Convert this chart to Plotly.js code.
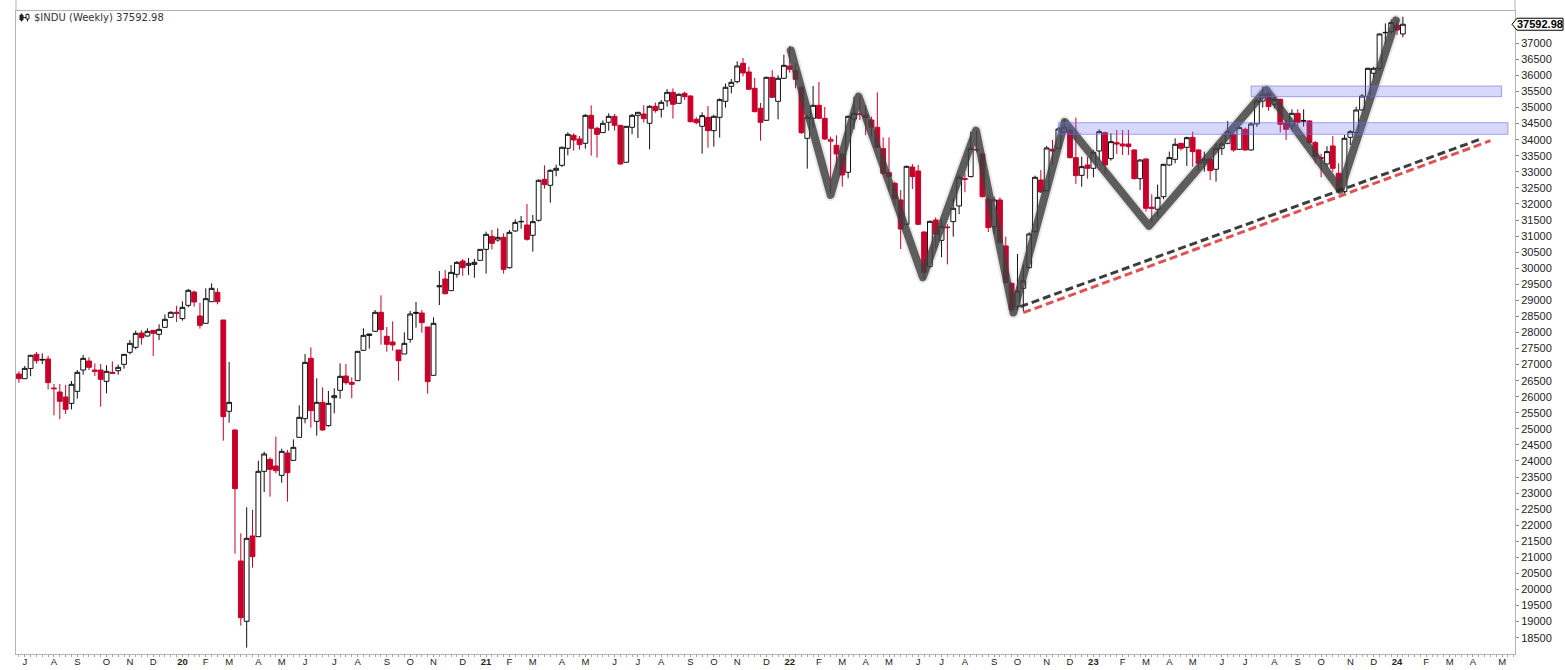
<!DOCTYPE html>
<html><head><meta charset="utf-8">
<script src="https://cdn.plot.ly/plotly-3.0.1.min.js"></script>
<style>html,body{margin:0;padding:0;background:#fff;}#chart{width:1565px;height:670px;}</style>
</head><body><div id="chart"></div>
<script>
// ---- data (weekly bars, first bar = week ending 2019-06-28) ----
const firstWeek = [2019, 5, 28];
const open = [
26707,26562,26880,27320,27140,27174,26270,26147,25992,25794,
26168,26832,27112,26832,26832,26479,26760,26811,27008,27382,
27537,27983,27890,28066,27942,28160,28471,28627,28430,28844,
29259,28513,28284,28958,29249,28388,25546,24965,20888,19010,
21666,21645,23678,24052,23844,23553,24249,24020,24736,25317,
27195,25234,25826,25100,25970,26199,26645,26448,26500,27444,
27952,28035,28627,27880,27703,27455,27330,27786,28625,28606,
28170,26666,29420,29664,29301,29809,30224,30090,30120,30245,
30587,30992,30878,30961,30017,31158,31458,31344,31024,31491,
32767,32580,33047,33202,33731,34136,34022,33887,34758,34354,
34219,34541,34727,34447,33296,34385,34758,34800,34510,35039,
34945,35205,35474,35132,35443,35360,34634,34416,34696,34281,
34696,35194,35661,35806,36377,36107,35599,34976,34603,35941,
35194,35910,36294,36149,35630,34043,34665,35070,34665,33950,
33825,33555,32985,34644,34800,34759,34613,34385,33721,32974,
32642,32124,31366,33150,33026,31127,30049,31501,30868,31283,
31449,31937,32788,32850,33700,33555,32155,31293,32124,30692,
29530,28803,29374,30017,31138,32746,32414,33700,33731,34229,
34302,33441,32891,33213,33109,33648,34219,33410,33908,33866,
33866,33680,32787,33400,31900,31833,32227,33213,33389,33887,
33762,34074,33680,33296,33399,33078,33731,33887,34167,33700,
34323,33680,34489,35204,35443,35101,35256,34530,34426,34820,
34600,34582,33908,33441,33244,33804,32954,32383,34074,34219,
34924,35339,36066,36221,37340,37362,37569,37290];
const high = [
26790,26956,27300,27392,27350,27267,26396,26396,26365,26490,
26832,27299,27226,27039,27018,26977,27101,26998,27330,27766,
28056,28066,28129,28070,28253,28564,28658,28834,28969,29353,
29301,28927,29373,29529,29373,28388,27081,24985,21749,22558,
22475,24010,24290,24114,24757,24383,24342,24674,25732,27330,
27537,26573,26292,26178,26261,27039,27018,26604,27413,28128,
27952,28699,29155,28170,28346,27455,28004,28668,28948,28700,
28170,28471,29913,29944,30100,30220,30286,30318,30286,30587,
31137,31189,31240,31085,31189,31521,31625,31998,31656,32767,
33202,33078,33223,33783,34229,34200,34115,34800,35070,34406,
34603,34821,34800,34447,34416,34800,34860,35070,35070,35153,
35236,35578,35599,35443,35495,35380,34700,34852,35049,34779,
35288,35744,35889,36439,36543,36273,35920,35142,35960,36159,
36004,36647,36916,36377,35650,34769,35671,35796,35018,34090,
34136,33580,34750,35340,35340,35080,34717,35474,34074,34074,
32694,32435,33190,33244,33213,31150,31480,31584,31501,31366,
32155,32902,32954,34250,34281,33580,32279,32227,32207,30982,
29550,30443,30100,31117,32881,33057,33804,33991,34385,34634,
34437,34686,33472,33472,33680,34323,34250,34198,34302,34302,
34302,33700,33390,33420,32300,32600,33250,33628,34043,33900,
34095,34250,33700,33628,33420,33887,33939,34582,34198,34406,
34375,34550,35250,35650,35500,35340,35280,34613,34945,34945,
34945,34600,33960,33555,33800,34115,33265,34146,34302,35028,
35422,36240,36273,37310,37620,37746,37725,37830];
const low = [
26438,26562,26640,27029,27018,26230,25421,25297,25463,25608,
25940,26687,26832,26645,25690,26106,26708,26687,26873,27320,
27475,27620,27869,27268,27765,28160,28471,28326,28367,28782,
28803,28118,28284,28958,28875,24632,25193,21116,18875,18190,
20680,21645,23035,22890,23616,23325,22734,24020,24736,25172,
25037,24788,24944,25068,25483,25940,26375,25950,26500,27444,
27496,28014,27620,27402,27434,26500,27330,27683,28149,27994,
26095,26666,28855,29187,29301,29705,29768,29788,29705,30245,
29830,30587,30826,29830,29986,31137,31230,30857,30515,31450,
32476,32040,32860,33150,33514,33659,33690,33721,33503,33441,
34219,34281,34281,33223,33296,34167,34053,34530,33700,34842,
34686,35028,34655,35132,35236,34540,34480,33565,33752,33783,
34063,34997,35443,35754,35972,35547,34850,33970,34590,35300,
34634,35890,36086,35599,34177,33099,34354,34640,33991,32331,
33078,32539,32798,34323,34613,34146,34095,33740,32902,32414,
31947,30599,31345,32466,31340,29653,30030,30599,30339,30121,
30982,31677,32362,32830,33607,32200,31127,31065,30770,29530,
28648,28700,28660,29990,31100,32340,32383,33213,33700,34198,
33410,32621,32538,32787,32829,33368,32922,33348,33555,33524,
33524,32760,32435,31760,31430,31600,32150,33182,33265,33659,
33182,33161,33026,33005,32746,32694,33524,33856,33628,33680,
33660,33660,34400,35000,34900,34976,34229,33991,34302,34406,
34406,33887,33265,32829,33150,33000,32327,32330,33835,34150,
34900,35300,35900,36150,36990,37300,37258,37186];
const close = [
26562,26883,27290,27122,27160,26438,26250,25857,25608,26386,
26759,27195,26915,26790,26541,26790,26730,26915,27320,27662,
27973,27838,28035,27973,28097,28409,28627,28600,28782,29311,
28948,28222,29052,29373,28958,25379,25825,23139,19124,21593,
21022,23678,24218,23740,23699,24300,23637,24425,25359,27070,
25566,25826,24965,25794,26033,26635,26438,26386,27413,27911,
27911,28627,28087,27631,27610,27122,27662,28575,28600,28305,
26469,28284,29450,29207,29871,30183,30017,30152,30183,30587,
31054,30774,30961,29965,31116,31427,31448,30899,31449,32736,
32601,33047,33109,33763,34167,33991,33846,34758,34354,34167,
34510,34727,34447,33244,34416,34758,34852,34655,35039,34904,
35163,35474,35101,35412,35339,34561,34530,34748,34281,34727,
35246,35630,35785,36294,36076,35568,34873,34540,35941,35319,
35910,36315,36190,35879,34219,34696,35070,34665,34022,34010,
33555,32902,34727,34821,34790,34696,34385,33762,32954,32850,
32155,31221,33171,32850,31366,29872,31459,31055,31294,31263,
31864,32829,32767,33731,33680,32227,31263,32124,30796,29550,
28700,29291,29602,31065,32829,32373,33742,33648,34333,34385,
33441,32881,33161,33109,33607,34250,33213,33939,33866,33804,
33783,32787,33368,31864,31862,32206,33233,33441,33856,33731,
34063,33628,33265,33389,33036,33731,33866,34250,33680,34375,
33680,34489,35204,35412,35028,35256,34478,34323,34820,34540,
34582,33908,33472,33420,33628,33109,32435,34043,34250,34924,
35360,36221,36221,37290,37330,37642,37414,37593];

const monthLetters = ['J','F','M','A','M','J','J','A','S','O','N','D'];
const yTicks = [18500,19000,19500,20000,20500,21000,21500,22000,22500,23000,23500,24000,24500,25000,25500,26000,26500,27000,27500,28000,28500,29000,29500,30000,30500,31000,31500,32000,32500,33000,33500,34000,34500,35000,35500,36000,36500,37000];
const titleText = '$INDU (Weekly) 37592.98';
const lastLabel = '37592.98';

// annotation drawings (bar index, value)
const zigzagIdx = [132.2,139,143.8,154.8,163.9,170.3,179.1,193.5,213.6,226.3,235.8];
const zigzagVal = [36770,32280,35340,29720,34280,28620,34550,31320,35550,32440,37710];
const trendBlackIdx = [171.5,250.2];
const trendBlackVal = [28802,34012];
const trendRedIdx = [172.0,252.0];
const trendRedVal = [28615,33969];
const zoneHighIdx = [211.0,253.9];
const zoneHighVal = [35338,35671];
const zoneLowIdx = [178.0,255.0];
const zoneLowVal = [34168,34529];

// ---- build ----
const W=1565,H=670,mL=16,mR=50,mT=11,mB=16;
const plotW=W-mL-mR, plotH=H-mT-mB;
const yMin=17993, yMax=38005;
const pxX = p => (p-mL)/plotW;
const pxY = p => (H-mB-p)/plotH;
const valY = v => (v-yMin)/(yMax-yMin);

const n = close.length;
const groups = {hb:[],hr:[],fb:[],fr:[]};
for (let i=0;i<n;i++){
  const prev = i>0 ? close[i-1] : open[i];
  const key = (close[i]>=open[i]?'h':'f') + (close[i]>=prev?'b':'r');
  groups[key].push(i);
}
const RED='#c8002a', BLK='#111111';
function candle(ids, lc, fc){
  return {type:'candlestick', x:ids.slice(), open:ids.map(i=>open[i]), high:ids.map(i=>high[i]),
    low:ids.map(i=>low[i]), close:ids.map(i=>close[i]), whiskerwidth:0, hoverinfo:'skip',
    increasing:{line:{color:lc,width:1},fillcolor:fc}, decreasing:{line:{color:lc,width:1},fillcolor:fc}};
}
const traces = [
  candle(groups.hb,BLK,'#ffffff'), candle(groups.hr,RED,'#ffffff'),
  candle(groups.fb,BLK,BLK), candle(groups.fr,RED,RED),
  {type:'scatter',mode:'lines',x:zigzagIdx,y:zigzagVal,line:{color:'rgba(90,90,90,0.14)',width:12},hoverinfo:'skip'},
  {type:'scatter',mode:'lines',x:zigzagIdx,y:zigzagVal,line:{color:'rgba(62,62,62,0.82)',width:8},hoverinfo:'skip'},
  {type:'scatter',mode:'lines',x:trendRedIdx,y:trendRedVal,line:{color:'rgba(222,72,72,0.95)',width:3,dash:'8px,4px'},hoverinfo:'skip'},
  {type:'scatter',mode:'lines',x:trendBlackIdx,y:trendBlackVal,line:{color:'rgba(40,40,40,0.9)',width:3,dash:'8px,4px'},hoverinfo:'skip'}
];

// month ticks: first weekly bar whose week begins in the month
const tickvals=[], ticktext=[];
const t0 = Date.UTC(firstWeek[0],firstWeek[1],firstWeek[2]);
for (let i=0;i<=256;i++){
  const d = new Date(t0 + i*7*86400000);
  const day = d.getUTCDate();
  if (day>=5 && day<=11){
    const m = d.getUTCMonth();
    tickvals.push(i);
    ticktext.push(m===0 ? '<b>'+String(d.getUTCFullYear()).slice(2)+'</b>' : monthLetters[m]);
  }
}

const c = close[n-1];
const lp = valY(c), dh = 6/plotH;
const shapes = [
  {type:'rect',xref:'x',yref:'y',x0:zoneHighIdx[0],x1:zoneHighIdx[1],y0:zoneHighVal[0],y1:zoneHighVal[1],
   fillcolor:'rgba(110,110,230,0.28)',line:{color:'rgba(110,110,230,0.6)',width:1},layer:'above'},
  {type:'rect',xref:'x',yref:'y',x0:zoneLowIdx[0],x1:zoneLowIdx[1],y0:zoneLowVal[0],y1:zoneLowVal[1],
   fillcolor:'rgba(110,110,230,0.28)',line:{color:'rgba(110,110,230,0.6)',width:1},layer:'above'},
  {type:'line',xref:'paper',yref:'paper',x0:0,x1:0,y0:1,y1:pxY(0),line:{color:'#b4b4b4',width:1}},
  {type:'line',xref:'paper',yref:'paper',x0:1,x1:1,y0:1,y1:pxY(0),line:{color:'#b4b4b4',width:1}},
  {type:'path',xref:'paper',yref:'paper',
   path:`M ${pxX(1512)},${lp} L ${pxX(1517)},${lp+dh} L ${pxX(1563)},${lp+dh} L ${pxX(1563)},${lp-dh} L ${pxX(1517)},${lp-dh} Z`,
   fillcolor:'#ffffff',line:{color:'#000',width:1}},
  // small chart icon before the title
  {type:'line',xref:'paper',yref:'paper',x0:pxX(21.5),x1:pxX(21.5),y0:pxY(13.5),y1:pxY(21.5),line:{color:'#222',width:1}},
  {type:'rect',xref:'paper',yref:'paper',x0:pxX(20),x1:pxX(23),y0:pxY(15),y1:pxY(20),fillcolor:'#222',line:{color:'#222',width:1}},
  {type:'line',xref:'paper',yref:'paper',x0:pxX(27.5),x1:pxX(27.5),y0:pxY(13.5),y1:pxY(21.5),line:{color:'#222',width:1}},
  {type:'rect',xref:'paper',yref:'paper',x0:pxX(26),x1:pxX(29),y0:pxY(14.5),y1:pxY(19),fillcolor:'#fff',line:{color:'#222',width:1}},
  {type:'line',xref:'paper',yref:'paper',x0:pxX(23),x1:pxX(26),y0:pxY(17.5),y1:pxY(17.5),line:{color:'#222',width:1}}
];
const annotations = [
  {xref:'paper',yref:'paper',x:pxX(31.5),y:pxY(17),xanchor:'left',yanchor:'middle',showarrow:false,
   text:titleText,font:{family:'DejaVu Sans, Verdana, sans-serif',size:10,color:'#333'}},
  {xref:'paper',yref:'y',x:pxX(1540.5),y:c,xanchor:'center',yanchor:'middle',showarrow:false,
   text:'<b>'+lastLabel+'</b>',font:{family:'Arial, Liberation Sans, sans-serif',size:11,color:'#000'}}
];
const layout = {
  width:W,height:H,margin:{l:mL,r:mR,t:mT,b:mB,pad:0},
  paper_bgcolor:'#fff',plot_bgcolor:'#fff',showlegend:false,hovermode:false,
  boxgap:0.18,boxgroupgap:0,
  xaxis:{type:'linear',range:[-0.5,256.2],rangeslider:{visible:false},showgrid:false,zeroline:false,
    showline:true,linecolor:'#b4b4b4',linewidth:1,mirror:true,
    tickmode:'array',tickvals:tickvals,ticktext:ticktext,ticks:'outside',ticklen:2,tickcolor:'#999',
    ticklabelstandoff:-3,
    minor:{tickmode:'linear',tick0:0,dtick:1,ticks:'outside',ticklen:2,tickcolor:'#aaa',showgrid:false},
    tickfont:{family:'Arial, Liberation Sans, sans-serif',size:9.5,color:'#222'},fixedrange:true},
  yaxis:{side:'right',range:[yMin,yMax],showgrid:false,zeroline:false,showline:true,linecolor:'#b4b4b4',
    linewidth:1,mirror:true,tickmode:'array',tickvals:yTicks,ticktext:yTicks.map(String),
    ticks:'outside',ticklen:3,tickcolor:'#888',
    tickfont:{family:'Arial, Liberation Sans, sans-serif',size:11,color:'#222'},fixedrange:true},
  shapes:shapes,annotations:annotations
};
Plotly.newPlot('chart',traces,layout,{staticPlot:true,displayModeBar:false}).then(()=>{
  const tr = document.querySelectorAll('.scatterlayer .trace');
  [0,1].forEach(k=>{ if(tr[k]) tr[k].querySelectorAll('path.js-line').forEach(p=>{
    p.style.strokeLinejoin='round'; p.style.strokeLinecap='round'; }); });
});
</script>
</body></html>
